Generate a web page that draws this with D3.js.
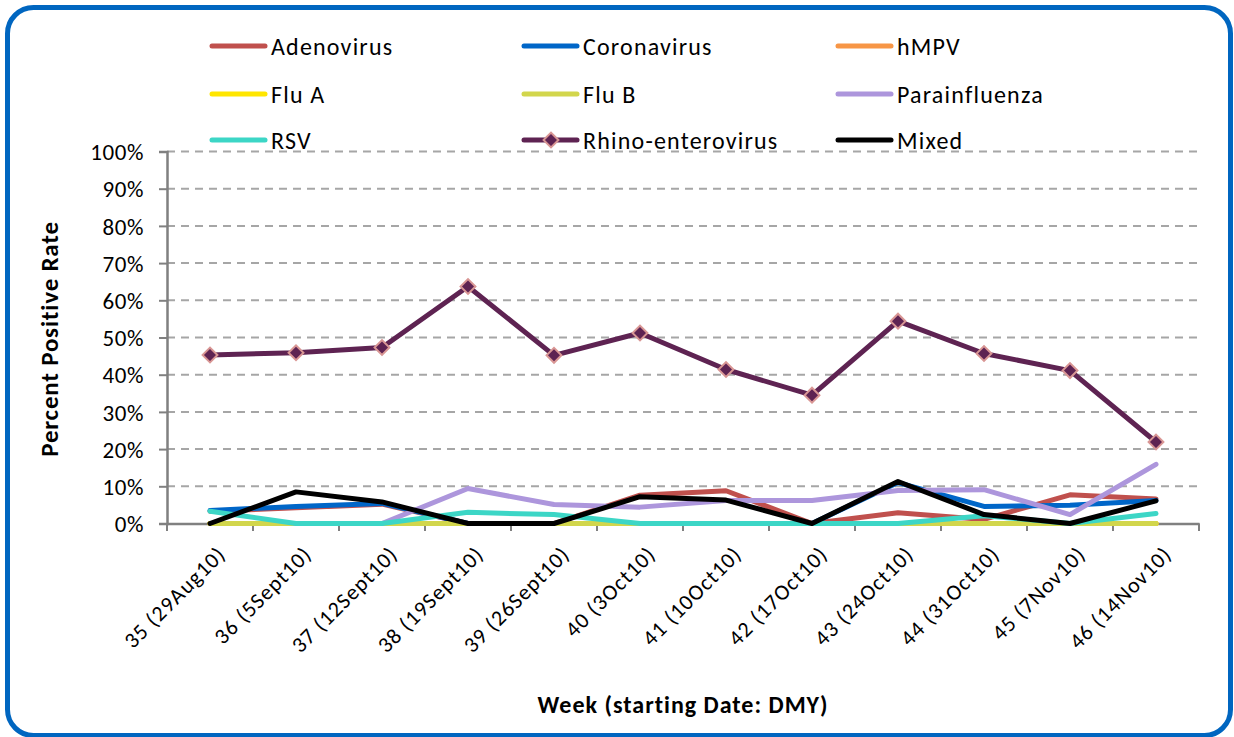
<!DOCTYPE html>
<html><head><meta charset="utf-8">
<script src="https://cdn.jsdelivr.net/npm/d3@7"></script>
<style>
html,body{margin:0;padding:0;background:#fff;}
svg{display:block;font-family:Carlito,Lato,"Open Sans",sans-serif;}
</style></head>
<body>
<svg id="chart" width="1234" height="737"></svg>
<script>
const categories = ["35 (29Aug10)","36 (5Sept10)","37 (12Sept10)","38 (19Sept10)","39 (26Sept10)","40 (3Oct10)","41 (10Oct10)","42 (17Oct10)","43 (24Oct10)","44 (31Oct10)","45 (7Nov10)","46 (14Nov10)"];
const seriesNames = ["Adenovirus","Coronavirus","hMPV","Flu A","Flu B","Parainfluenza","RSV","Rhino-enterovirus","Mixed"];
const adenovirus   = [3.3, 4.2, 5.2, 0, 0, 7.6, 8.8, 0, 2.9, 1.1, 7.7, 6.6];
const coronavirus  = [3.5, 4.6, 5.4, 0, 0, 0, 0, 0, 11.0, 4.6, 4.9, 6.2];
const hmpv         = [0, 0, 0, 0, 0, 0, 0, 0, 0, 0, 0, 0];
const fluA         = [0, 0, 0, 0, 0, 0, 0, 0, 0, 0, 0, 0];
const fluB         = [0, 0, 0, 0, 0, 0, 0, 0, 0, 0, 0, 0];
const parainfluenza= [null, 0, 0, 9.4, 5.1, 4.4, 6.2, 6.2, 8.9, 9.1, 2.4, 15.9];
const rsv          = [3.3, 0, 0, 3.0, 2.4, 0, 0, 0, 0, 2.1, 0, 2.7];
const rhino        = [45.3, 45.9, 47.3, 63.7, 45.2, 51.2, 41.4, 34.5, 54.4, 45.7, 41.1, 21.9];
const mixed        = [0, 8.5, 5.8, 0, 0, 7.2, 6.3, 0, 11.3, 2.4, 0, 6.1];
const yTicks = [0,10,20,30,40,50,60,70,80,90,100];
const colors = ["#C0504D","#0066C8","#F79646","#FFE600","#D2D64C","#AD96DC","#3CD6C6","#5E2352","#000000"];

const seriesData = [adenovirus, coronavirus, hmpv, fluA, fluB, parainfluenza, rsv, rhino, mixed];

const svg = d3.select("#chart");

// frame
svg.append("rect").attr("x",7.5).attr("y",7.5).attr("width",1223).attr("height",728)
  .attr("rx",26).attr("ry",26).attr("fill","#fff").attr("stroke","#0066C0").attr("stroke-width",5);

const x = d3.scaleBand().domain(categories).range([167,1199]).padding(0);
const y = d3.scaleLinear().domain([0,100]).range([523.5,151.5]);
const cx = c => x(c) + x.bandwidth()/2;

// gridlines
svg.append("g").selectAll("line").data(yTicks.filter(t=>t>0)).join("line")
  .attr("x1",167).attr("x2",1199).attr("y1",d=>y(d)).attr("y2",d=>y(d))
  .attr("stroke","#A6A6A6").attr("stroke-width",2).attr("stroke-dasharray","8,6");

// y axis
const yAxis = svg.append("g").attr("transform","translate(167,0)")
  .call(d3.axisLeft(y).tickValues(yTicks).tickFormat(d=>d+"%").tickSize(8).tickPadding(15));
yAxis.attr("font-family",null).attr("font-size",null);
yAxis.select(".domain").attr("stroke","#808080").attr("stroke-width",2.5);
yAxis.selectAll(".tick line").attr("stroke","#808080").attr("stroke-width",2);
yAxis.selectAll(".tick text").attr("font-size",23).attr("letter-spacing",0.6).attr("fill","#000").attr("dy","0.36em");

// x axis
const xAxis = svg.append("g").attr("transform","translate(0,523.5)")
  .call(d3.axisBottom(x).tickSize(0).tickPadding(0));
xAxis.attr("font-family",null).attr("font-size",null);
xAxis.select(".domain").attr("stroke","#808080").attr("stroke-width",2.5);
xAxis.selectAll(".tick text").attr("font-size",22).attr("letter-spacing",1.1).attr("fill","#000")
  .attr("text-anchor","end").attr("dy",0)
  .attr("transform","translate(17,32) rotate(-45)");
// boundary ticks
const bounds = categories.map(c=>x(c)).concat([x.range()[1]]);
svg.append("g").selectAll("line").data(bounds).join("line")
  .attr("x1",d=>d).attr("x2",d=>d).attr("y1",523.5).attr("y2",531)
  .attr("stroke","#808080").attr("stroke-width",2);

// lines
const line = d3.line().defined(d=>d.v!=null).x(d=>cx(d.c)).y(d=>y(d.v));
const diamond = d3.symbol(d3.symbolSquare, 110)();
seriesData.forEach((vals,i)=>{
  const pts = categories.map((c,j)=>({c, v: vals[j]}));
  svg.append("path").datum(pts).attr("d",line).attr("fill","none")
    .attr("stroke",colors[i]).attr("stroke-width",5)
    .attr("stroke-linejoin","round").attr("stroke-linecap","round");
  if(i===7){
    svg.append("g").selectAll("path").data(pts).join("path")
      .attr("d",diamond)
      .attr("transform",d=>`translate(${cx(d.c)},${y(d.v)}) rotate(45)`)
      .attr("fill","#5E2352").attr("stroke","#D99694").attr("stroke-width",2);
  }
});

// legend
const legCols = [212, 524, 838];
const legRows = [46, 94, 140];
const leg = svg.append("g");
seriesNames.forEach((n,i)=>{
  const lx = legCols[i%3], ly = legRows[Math.floor(i/3)];
  leg.append("line").attr("x1",lx).attr("x2",lx+53).attr("y1",ly).attr("y2",ly)
    .attr("stroke",colors[i]).attr("stroke-width",5).attr("stroke-linecap","round");
  if(i===7){
    leg.append("path").attr("d",diamond)
      .attr("transform",`translate(${lx+27},${ly}) rotate(45)`)
      .attr("fill","#5E2352").attr("stroke","#D99694").attr("stroke-width",2);
  }
  leg.append("text").attr("x",lx+59).attr("y",ly).attr("dy","0.36em")
    .attr("font-size",24).attr("letter-spacing",1.2).text(n);
});

// axis titles
svg.append("text").attr("transform","translate(58,339) rotate(-90)")
  .attr("text-anchor","middle").attr("font-size",25).attr("letter-spacing",0.8)
  .attr("font-weight","bold").text("Percent Positive Rate");
svg.append("text").attr("x",683).attr("y",713)
  .attr("text-anchor","middle").attr("font-size",24).attr("letter-spacing",1)
  .attr("font-weight","bold").text("Week (starting Date: DMY)");
</script>
</body></html>
